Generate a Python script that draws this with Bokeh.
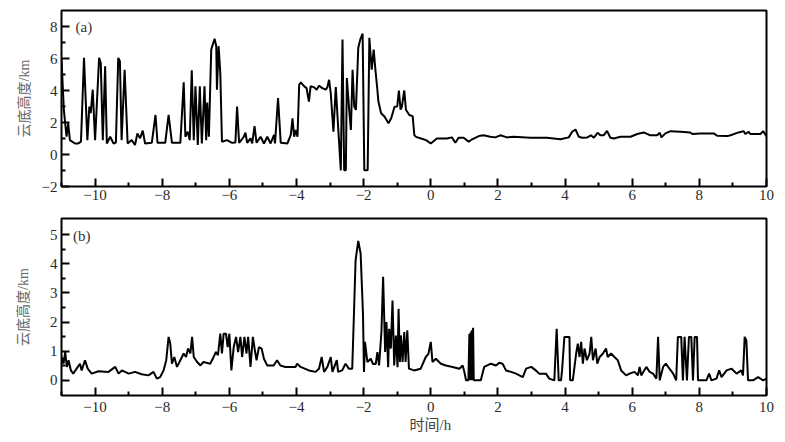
from bokeh.plotting import figure
from bokeh.layouts import column
from bokeh.models import FixedTicker, Range1d, Label, ColumnDataSource, Title
from bokeh.embed import file_html
from bokeh.resources import INLINE

# ---------------- data ----------------
# (a) cloud base height, km
time_a = [-11.0, -10.93, -10.85, -10.80, -10.75, -10.60, -10.50, -10.42, -10.33, -10.23,
          -10.17, -10.13, -10.07, -10.0, -9.88, -9.83, -9.77, -9.70, -9.65, -9.55,
          -9.45, -9.38, -9.31, -9.26, -9.21, -9.12, -9.03, -8.91, -8.81, -8.74,
          -8.66, -8.58, -8.51, -8.31, -8.20, -8.14, -7.91, -7.81, -7.71, -7.46,
          -7.36, -7.31, -7.24, -7.18, -7.12, -7.06, -7.01, -6.94, -6.88, -6.82,
          -6.74, -6.69, -6.66, -6.61, -6.58, -6.54, -6.44, -6.39, -6.37, -6.32,
          -6.27, -6.22, -6.07, -5.92, -5.82, -5.77, -5.71, -5.57, -5.52, -5.47,
          -5.37, -5.32, -5.25, -5.19, -5.07, -4.97, -4.87, -4.77, -4.67, -4.64,
          -4.55, -4.47, -4.27, -4.17, -4.12, -4.07, -4.02, -3.97, -3.92, -3.87,
          -3.77, -3.70, -3.63, -3.58, -3.48, -3.40, -3.33, -3.23, -3.13, -3.08,
          -3.03, -2.98, -2.90, -2.83, -2.76, -2.68, -2.63, -2.58, -2.53, -2.50,
          -2.43, -2.38, -2.33, -2.28, -2.23, -2.16, -2.10, -2.03, -1.98, -1.88,
          -1.83, -1.76, -1.70, -1.65, -1.60, -1.56, -1.48, -1.38, -1.26, -1.18,
          -1.08, -1.00, -0.95, -0.90, -0.86, -0.79, -0.74, -0.64, -0.54, -0.49,
          -0.44, -0.29, -0.14, 0.0, 0.18, 0.48, 0.63, 0.73, 0.83, 0.98,
          1.13, 1.23, 1.43, 1.57, 1.77, 1.92, 2.07, 2.27, 2.47, 2.97,
          3.46, 3.86, 4.11, 4.21, 4.31, 4.41, 4.51, 4.66, 4.77, 4.86,
          4.97, 5.05, 5.15, 5.25, 5.35, 5.45, 5.65, 5.95, 6.15, 6.34,
          6.54, 6.74, 6.82, 6.87, 6.99, 7.14, 7.44, 7.73, 7.79, 8.03,
          8.43, 8.53, 8.83, 8.93, 9.17, 9.32, 9.37, 9.47, 9.52, 9.82,
          9.90, 10.0]
height_a = [5.93, 2.79, 1.11, 1.95, 0.90, 0.69, 0.69, 0.80, 6.04, 0.90,
            3.00, 2.59, 4.05, 0.90, 6.04, 5.72, 0.90, 5.51, 0.69, 1.11,
            0.69, 0.75, 6.04, 5.83, 0.90, 5.30, 0.69, 0.90, 0.59, 1.32,
            1.01, 1.49, 0.69, 0.73, 2.47, 0.73, 0.73, 2.47, 0.73, 0.73,
            4.51, 1.11, 1.43, 0.90, 5.26, 0.90, 4.26, 0.59, 4.26, 0.69,
            4.26, 0.90, 3.25, 1.11, 3.42, 6.56, 7.23, 6.77, 4.05, 6.77,
            5.09, 0.80, 0.90, 0.73, 0.75, 3.00, 0.73, 1.11, 1.36, 0.73,
            1.01, 0.69, 1.78, 0.73, 1.11, 0.69, 1.11, 0.69, 1.22, 0.69,
            3.52, 0.73, 0.69, 1.22, 2.26, 1.11, 1.53, 1.11, 4.36, 4.51,
            4.26, 4.15, 3.31, 4.26, 4.21, 4.05, 4.30, 4.15, 4.05, 4.21,
            4.67, 3.84, 1.43, 4.21, 1.74, -0.99, 7.19, -0.99, -0.99, 4.78,
            2.79, 1.53, 5.30, 3.00, 2.79, 6.67, 7.19, 7.55, -0.99, -0.99,
            7.30, 5.30, 6.56, 5.30, 4.25, 3.31, 2.58, 2.37, 1.95, 2.27,
            2.99, 3.00, 4.00, 2.80, 3.00, 4.00, 2.80, 2.47, 2.40, 1.21,
            1.10, 1.00, 0.90, 0.69, 1.00, 1.00, 1.07, 0.73, 1.05, 1.05,
            0.80, 0.95, 1.15, 1.20, 1.11, 1.07, 1.20, 1.07, 1.11, 1.05,
            1.05, 0.95, 1.07, 1.42, 1.56, 1.11, 1.05, 1.07, 1.20, 1.05,
            1.36, 1.20, 1.20, 1.48, 1.05, 1.00, 1.11, 1.11, 1.28, 1.38,
            1.20, 1.20, 1.36, 1.07, 1.32, 1.46, 1.42, 1.38, 1.28, 1.32,
            1.32, 1.17, 1.15, 1.20, 1.38, 1.46, 1.28, 1.42, 1.28, 1.28,
            1.46, 1.15]

# (b) cloud base height, km
time_b = [-10.99, -10.94, -10.89, -10.84, -10.79, -10.72, -10.65, -10.55, -10.45, -10.40,
          -10.30, -10.22, -10.10, -9.90, -9.60, -9.40, -9.30, -9.20, -9.00, -8.81,
          -8.61, -8.41, -8.26, -8.16, -8.06, -7.96, -7.88, -7.81, -7.76, -7.71,
          -7.64, -7.56, -7.46, -7.36, -7.29, -7.23, -7.16, -7.11, -7.06, -6.96,
          -6.86, -6.77, -6.57, -6.47, -6.40, -6.34, -6.27, -6.22, -6.17, -6.10,
          -6.05, -6.00, -5.94, -5.87, -5.80, -5.74, -5.67, -5.62, -5.55, -5.49,
          -5.44, -5.37, -5.30, -5.24, -5.19, -5.12, -5.04, -4.97, -4.87, -4.68,
          -4.58, -4.48, -4.33, -4.03, -3.98, -3.88, -3.63, -3.43, -3.33, -3.25,
          -3.18, -3.08, -2.98, -2.93, -2.80, -2.76, -2.64, -2.54, -2.44, -2.34,
          -2.29, -2.24, -2.16, -2.09, -2.02, -1.99, -1.96, -1.89, -1.79, -1.72,
          -1.64, -1.59, -1.54, -1.47, -1.42, -1.36, -1.32, -1.27, -1.24, -1.19,
          -1.14, -1.09, -1.04, -0.99, -0.96, -0.92, -0.89, -0.84, -0.79, -0.75,
          -0.70, -0.65, -0.50, -0.30, -0.15, -0.07, 0.0, 0.05, 0.15, 0.30,
          0.45, 0.65, 0.85, 0.95, 1.00, 1.05, 1.12, 1.15, 1.17, 1.19,
          1.21, 1.22, 1.24, 1.26, 1.28, 1.49, 1.59, 1.79, 1.94, 2.04,
          2.14, 2.24, 2.39, 2.54, 2.74, 2.84, 2.99, 3.13, 3.23, 3.43,
          3.53, 3.68, 3.75, 3.81, 3.88, 3.91, 3.98, 4.13, 4.15, 4.23,
          4.33, 4.38, 4.43, 4.48, 4.53, 4.58, 4.65, 4.73, 4.78, 4.83,
          4.91, 4.96, 5.03, 5.13, 5.22, 5.27, 5.37, 5.47, 5.57, 5.67,
          5.82, 5.92, 6.07, 6.17, 6.22, 6.27, 6.42, 6.52, 6.62, 6.72,
          6.77, 6.82, 6.92, 7.00, 7.07, 7.22, 7.31, 7.36, 7.46, 7.51,
          7.56, 7.63, 7.69, 7.76, 7.81, 7.86, 7.93, 7.96, 8.21, 8.29,
          8.36, 8.51, 8.59, 8.66, 8.81, 8.96, 9.11, 9.25, 9.30, 9.35,
          9.40, 9.45, 9.60, 9.75, 9.90, 10.0]
height_b = [0.80, 0.57, 0.97, 0.46, 0.69, 0.34, 0.23, 0.40, 0.57, 0.34,
            0.69, 0.40, 0.23, 0.31, 0.29, 0.46, 0.23, 0.34, 0.23, 0.29,
            0.21, 0.17, 0.29, 0.06, 0.11, 0.34, 0.69, 1.49, 1.26, 0.57,
            0.80, 0.46, 0.69, 0.92, 0.80, 1.09, 0.92, 1.49, 0.80, 0.63,
            0.51, 0.63, 0.57, 0.80, 0.97, 0.86, 1.60, 0.92, 1.60, 1.60,
            1.14, 1.60, 0.34, 1.14, 1.49, 0.97, 1.49, 0.80, 1.49, 0.92,
            1.49, 0.46, 1.49, 1.03, 0.69, 1.14, 1.09, 0.74, 0.51, 0.51,
            0.69, 0.51, 0.46, 0.46, 0.57, 0.46, 0.34, 0.29, 0.40, 0.80,
            0.29, 0.46, 0.80, 0.29, 0.69, 0.29, 0.34, 0.57, 0.40, 0.40,
            2.23, 4.12, 4.78, 4.35, 2.29, 0.29, 1.32, 0.63, 0.74, 0.56,
            0.56, 0.97, 0.51, 1.66, 3.55, 0.97, 2.00, 0.45, 1.77, 1.09,
            2.74, 0.51, 1.54, 0.45, 2.45, 0.63, 1.54, 0.63, 1.66, 0.63,
            1.72, 0.40, 0.34, 0.40, 0.80, 0.91, 1.32, 0.63, 0.74, 0.57,
            0.51, 0.46, 0.40, 0.51, 0.29, 0.00, 0.00, 1.60, 0.00, 1.65,
            0.00, 1.72, 0.00, 1.80, 0.00, 0.00, 0.46, 0.57, 0.51, 0.60,
            0.57, 0.34, 0.29, 0.23, 0.11, 0.40, 0.46, 0.34, 0.23, 0.23,
            0.06, 0.00, 1.77, 0.00, 0.00, 0.34, 1.49, 1.49, 0.00, 0.00,
            0.92, 1.26, 0.80, 1.32, 0.57, 1.09, 0.69, 0.92, 1.49, 0.69,
            1.09, 0.57, 0.80, 0.92, 1.09, 0.80, 0.92, 0.80, 0.69, 0.34,
            0.17, 0.23, 0.29, 0.17, 0.46, 0.17, 0.46, 0.29, 0.23, 0.06,
            1.49, 0.00, 0.46, 0.57, 0.46, 0.23, 0.00, 1.49, 1.49, 0.00,
            1.49, 0.00, 1.49, 1.49, 0.00, 1.49, 1.49, 0.00, 0.00, 0.23,
            0.00, 0.06, 0.34, 0.11, 0.34, 0.40, 0.23, 0.34, 0.17, 1.49,
            1.37, 0.00, 0.00, 0.11, 0.00, 0.06]

x_ticks = [-10, -8, -6, -4, -2, 0, 2, 4, 6, 8, 10]
x_minor = [-11, -9, -7, -5, -3, -1, 1, 3, 5, 7, 9]
ya_ticks = [-2, 0, 2, 4, 6, 8]
ya_minor = [-1, 1, 3, 5, 7]
yb_ticks = [0, 1, 2, 3, 4, 5]
yb_minor = [0.5, 1.5, 2.5, 3.5, 4.5]

y_label = "云底高度/km"
x_label = "时间/h"

SERIF = "Liberation Serif"
MIXED = "Liberation Serif, Noto Sans CJK SC"


def minus(v):
    return ("\u2212" + str(abs(v))) if v < 0 else str(v)


def style(p, xt, xm, yt, ym, ylab_standoff, xlab_standoff):
    p.xgrid.grid_line_color = None
    p.ygrid.grid_line_color = None
    p.outline_line_color = "black"
    p.outline_line_width = 2
    p.outline_line_alpha = 1
    p.background_fill_color = "white"
    p.border_fill_color = "white"
    p.xaxis.ticker = FixedTicker(ticks=xt, minor_ticks=xm)
    p.yaxis.ticker = FixedTicker(ticks=yt, minor_ticks=ym)
    p.xaxis.major_label_overrides = {t: minus(t) for t in xt}
    p.yaxis.major_label_overrides = {t: minus(t) for t in yt}
    for ax in (p.xaxis, p.yaxis):
        ax.axis_line_color = None
        ax.major_tick_in = 8
        ax.major_tick_out = 0
        ax.minor_tick_in = 4
        ax.minor_tick_out = 0
        ax.major_tick_line_width = 2
        ax.minor_tick_line_width = 2
        ax.major_tick_line_color = "black"
        ax.minor_tick_line_color = "black"
        ax.major_label_text_font = SERIF
        ax.major_label_text_font_size = "15px"
        ax.major_label_text_color = "#2a2a2a"
    p.xaxis.major_label_standoff = xlab_standoff
    p.yaxis.major_label_standoff = 4
    p.yaxis.axis_label = y_label
    p.yaxis.axis_label_text_font = MIXED
    p.yaxis.axis_label_text_font_size = "14px"
    p.yaxis.axis_label_text_font_style = "normal"
    p.yaxis.axis_label_text_color = "#666666"
    p.yaxis.axis_label_standoff = ylab_standoff


p1 = figure(frame_width=705, frame_height=176,
            x_range=Range1d(-11, 10), y_range=Range1d(-2, 9),
            output_backend="svg", toolbar_location=None,
            min_border_left=61, min_border_right=11,
            min_border_top=10, min_border_bottom=22)
style(p1, x_ticks, x_minor, ya_ticks, ya_minor, 7, 3)
src_a = ColumnDataSource(dict(t=time_a, h=height_a))
p1.line("t", "h", source=src_a, line_color="black", line_width=2)
p1.add_layout(Label(x=-10.58, y=7.97, text="(a)", text_font=SERIF,
                    text_font_size="15px", text_color="#333333",
                    text_baseline="middle", text_align="left"))

p2 = figure(frame_width=705, frame_height=177,
            x_range=Range1d(-11, 10), y_range=Range1d(-0.52, 5.55),
            output_backend="svg", toolbar_location=None,
            min_border_left=61, min_border_right=11,
            min_border_top=10, min_border_bottom=0)
style(p2, x_ticks, x_minor, yb_ticks, yb_minor, 16, 6)
src_b = ColumnDataSource(dict(t=time_b, h=height_b))
p2.line("t", "h", source=src_b, line_color="black", line_width=2)
p2.add_layout(Label(x=-10.66, y=4.96, text="(b)", text_font=SERIF,
                    text_font_size="15px", text_color="#333333",
                    text_baseline="middle", text_align="left"))
p2.add_layout(Title(text=x_label, align="left", offset=348, standoff=1,
                    text_font=MIXED, text_font_size="15px",
                    text_font_style="normal", text_color="#444444"), "below")

layout = column(p1, p2, spacing=0)
open("out.html", "w").write(file_html(layout, INLINE))
